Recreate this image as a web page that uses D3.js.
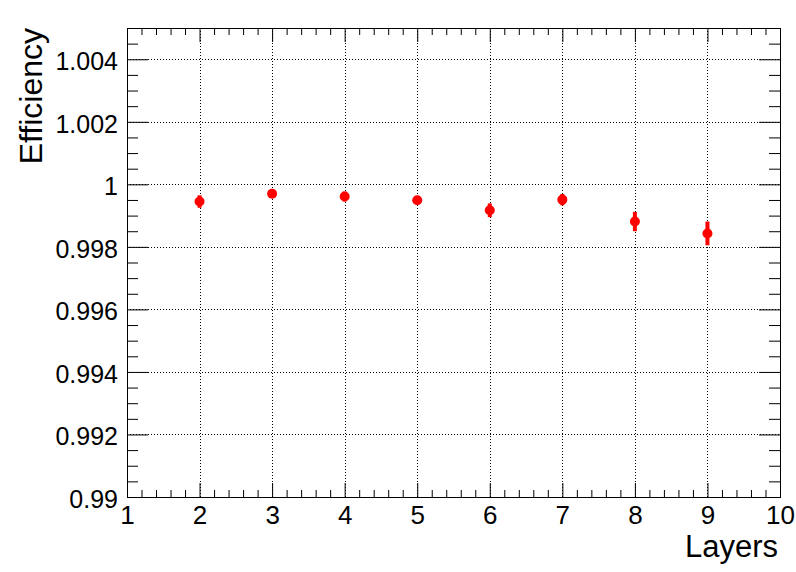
<!DOCTYPE html>
<html>
<head>
<meta charset="utf-8">
<script src="https://cdn.jsdelivr.net/npm/d3@7"></script>
<style>
	body { margin: 0; background: #fff; }
	svg { display: block; font-family: "Liberation Sans", Arial, sans-serif; }
	.domain { stroke: #000; }
</style>
</head>
<body>
<svg id="chart"></svg>
<script>
// data
let layers = [2, 3, 4, 5, 6, 7, 8, 9];
let efficiency = [0.99945, 0.99970, 0.99961, 0.99949, 0.99917, 0.99951, 0.99881, 0.99843];
let errors = [0.00020, 0.00007, 0.00016, 0.00006, 0.00022, 0.00018, 0.00031, 0.00038];

let xTicks = [1, 2, 3, 4, 5, 6, 7, 8, 9, 10];
let yTicks = [0.99, 0.992, 0.994, 0.996, 0.998, 1, 1.002, 1.004];
let yTickLabels = ["0.99", "0.992", "0.994", "0.996", "0.998", "1", "1.002", "1.004"];

function makeChart() {
	let w = 796;
	let h = 572;
	let marginT = 28;
	let marginL = 127;
	let marginR = 16;
	let marginB = 75;

	let chart = d3.select('#chart')
		.attr('width', w)
		.attr('height', h);

	let xScale = d3.scaleLinear()
		.domain([1, 10])
		.range([marginL, w - marginR]);

	let yScale = d3.scaleLinear()
		.domain([0.99, 1.005])
		.range([h - marginB, marginT]);

	// minor tick positions
	let xMinor = d3.range(1, 10.001, 0.2).filter(v => Math.abs(v - Math.round(v)) > 1e-6);
	let yMinor = d3.range(0, 31).map(i => 0.99 + i * 0.0005).filter((v, i) => i % 4 != 0);

	//grid
	let grid = chart.append('g')
		.attr('stroke', '#000')
		.attr('stroke-width', 1)
		.attr('stroke-dasharray', '1,2');

	grid.selectAll('.vgrid')
		.data(xTicks.slice(1, -1))
		.enter()
		.append('line')
		.attr('x1', d => Math.round(xScale(d)) + 0.5)
		.attr('x2', d => Math.round(xScale(d)) + 0.5)
		.attr('y1', yScale.range()[0])
		.attr('y2', yScale.range()[1]);

	grid.selectAll('.hgrid')
		.data(yTicks.slice(1))
		.enter()
		.append('line')
		.attr('y1', d => Math.round(yScale(d)) + 0.5)
		.attr('y2', d => Math.round(yScale(d)) + 0.5)
		.attr('x1', xScale.range()[0])
		.attr('x2', xScale.range()[1]);

	//AXES
	function styleAxis(g) {
		g.selectAll('line').attr('stroke', '#000');
		g.selectAll('path').attr('stroke', '#000');
		g.selectAll('text')
			.attr('fill', '#000')
			.style('font-size', '25px');
	}

	// bottom
	chart.append('g')
		.attr('transform', `translate(0, ${h - marginB})`)
		.call(d3.axisBottom(xScale).tickValues(xTicks).tickFormat(d3.format('d'))
			.tickSizeInner(-14).tickSizeOuter(0).tickPadding(8))
		.call(styleAxis)
		.call(g => g.selectAll('text').attr('dy', '0.72em').style('font-size', '26px'));

	chart.append('g')
		.attr('transform', `translate(0, ${h - marginB})`)
		.call(d3.axisBottom(xScale).tickValues(xMinor).tickFormat('')
			.tickSizeInner(-7).tickSizeOuter(0))
		.call(styleAxis);

	// top
	chart.append('g')
		.attr('transform', `translate(0, ${marginT})`)
		.call(d3.axisTop(xScale).tickValues(xTicks).tickFormat('')
			.tickSizeInner(-14).tickSizeOuter(0))
		.call(styleAxis);

	chart.append('g')
		.attr('transform', `translate(0, ${marginT})`)
		.call(d3.axisTop(xScale).tickValues(xMinor).tickFormat('')
			.tickSizeInner(-7).tickSizeOuter(0))
		.call(styleAxis);

	// left
	chart.append('g')
		.attr('transform', `translate(${marginL}, 0)`)
		.call(d3.axisLeft(yScale).tickValues(yTicks).tickFormat((d, i) => yTickLabels[i])
			.tickSizeInner(-21).tickSizeOuter(0).tickPadding(9))
		.call(styleAxis)
		.call(g => g.selectAll('text').attr('dy', '0.42em'));

	chart.append('g')
		.attr('transform', `translate(${marginL}, 0)`)
		.call(d3.axisLeft(yScale).tickValues(yMinor).tickFormat('')
			.tickSizeInner(-11).tickSizeOuter(0))
		.call(styleAxis);

	// right
	chart.append('g')
		.attr('transform', `translate(${w - marginR}, 0)`)
		.call(d3.axisRight(yScale).tickValues(yTicks).tickFormat('')
			.tickSizeInner(-21).tickSizeOuter(0))
		.call(styleAxis);

	chart.append('g')
		.attr('transform', `translate(${w - marginR}, 0)`)
		.call(d3.axisRight(yScale).tickValues(yMinor).tickFormat('')
			.tickSizeInner(-11).tickSizeOuter(0))
		.call(styleAxis);

	// frame
	chart.append('rect')
		.attr('x', marginL + 0.5)
		.attr('y', marginT + 0.5)
		.attr('width', w - marginR - marginL)
		.attr('height', h - marginB - marginT)
		.attr('fill', 'none')
		.attr('stroke', '#000')
		.attr('stroke-width', 1);

	//error bars
	chart.selectAll('.err')
		.data(layers)
		.enter()
		.append('line')
		.attr('class', 'err')
		.attr('x1', d => xScale(d))
		.attr('x2', d => xScale(d))
		.attr('y1', (d, i) => yScale(efficiency[i] - errors[i]))
		.attr('y2', (d, i) => yScale(efficiency[i] + errors[i]))
		.attr('stroke', '#ff0000')
		.attr('stroke-width', 4);

	//markers
	chart.selectAll('.pt')
		.data(layers)
		.enter()
		.append('circle')
		.attr('class', 'pt')
		.attr('cx', d => xScale(d))
		.attr('cy', (d, i) => yScale(efficiency[i]))
		.attr('r', 5)
		.attr('fill', '#ff0000');

	//LABELS
	chart.append('text')
		.attr('x', w - marginR - 2)
		.attr('y', 557)
		.style('text-anchor', 'end')
		.style('font-size', '31px')
		.text('Layers');

	chart.append('text')
		.attr('transform', 'rotate(-90)')
		.attr('x', -marginT)
		.attr('y', 42)
		.style('text-anchor', 'end')
		.style('font-size', '32px')
		.text('Efficiency');
}

window.onload = function () {
	makeChart();
}
</script>
</body>
</html>
